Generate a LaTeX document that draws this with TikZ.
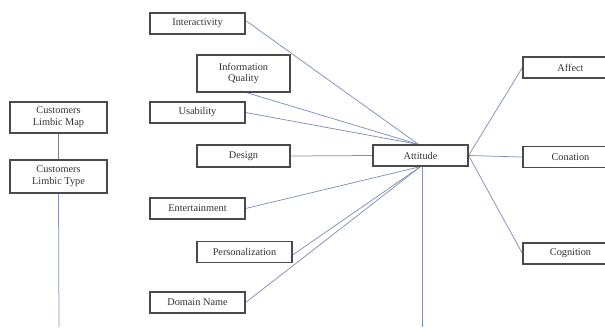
\documentclass[tikz,border=0pt]{standalone}
\usepackage{fontspec}
\setmainfont{Liberation Serif}
\usetikzlibrary{backgrounds}
\definecolor{boxline}{HTML}{4A4A4A}
\definecolor{conn}{HTML}{8090B8}
\definecolor{txt}{HTML}{333333}
\begin{document}
\begin{tikzpicture}[x=1pt,y=-1pt,
  bx/.style={draw=boxline,line width=1.2pt,fill=white,inner sep=0pt,
    align=center,text=txt,font=\fontsize{10.3}{11.8}\selectfont},
  cn/.style={draw=conn,line width=0.75pt}]
\useasboundingbox (0,0) rectangle (605,327);
% nodes
\node[bx,minimum width=95pt,minimum height=21pt] (inter) at (197.5,23.5) {Interactivity};
\node[bx,minimum width=93pt,minimum height=37pt] (infoq) at (243.5,73.5) {Information\\Quality};
\node[bx,minimum width=95pt,minimum height=21pt] (usab) at (197.5,112.5) {Usability};
\node[bx,minimum width=93pt,minimum height=22pt] (design) at (243.5,156) {Design};
\node[bx,minimum width=95pt,minimum height=21pt] (entert) at (197.5,208.5) {Entertainment};
\node[bx,minimum width=95pt,minimum height=21pt] (person) at (244.5,252) {Personalization};
\node[bx,minimum width=95pt,minimum height=21pt] (domain) at (197.5,302.5) {Domain Name};
\node[bx,minimum width=97pt,minimum height=31pt] (lmap) at (58.5,117.5) {Customers\\Limbic Map};
\node[bx,minimum width=97pt,minimum height=33pt] (ltype) at (58.5,176.5) {Customers\\Limbic Type};
\node[bx,minimum width=95pt,minimum height=21pt] (att) at (420.5,155.5) {Attitude};
\node[bx,minimum width=95pt,minimum height=21pt] (affect) at (570.5,67.5) {Affect};
\node[bx,minimum width=95pt,minimum height=21pt] (conat) at (570.5,157) {Conation};
\node[bx,minimum width=95pt,minimum height=21pt] (cogn) at (570.5,253.5) {Cognition};
\coordinate (ltypeend) at (59,327);
\coordinate (attend) at (422,327);
% connectors
\begin{scope}[on background layer]
\draw[cn] ([yshift=3pt]inter.east) -- ([xshift=-2pt]att.north);
\draw[cn] ([xshift=3pt]infoq.south) -- ([xshift=-2pt]att.north);
\draw[cn] (usab.east) -- ([xshift=-2pt]att.north);
\draw[cn] (design.east) -- (att.west);
\draw[cn] (entert.east) -- (att.south);
\draw[cn] ([yshift=-3pt]person.east) -- (att.south);
\draw[cn] (domain.east) -- (att.south);
\draw[cn] ([xshift=1.5pt]att.south) -- (attend);
\draw[cn] (att.east) -- (affect.west);
\draw[cn] (att.east) -- (conat.west);
\draw[cn] (att.east) -- (cogn.west);
\draw[draw=gray,line width=0.75pt] (lmap.south) -- (ltype.north);
\draw[cn] (ltype.south) -- (ltypeend);
\end{scope}
\end{tikzpicture}
\end{document}
